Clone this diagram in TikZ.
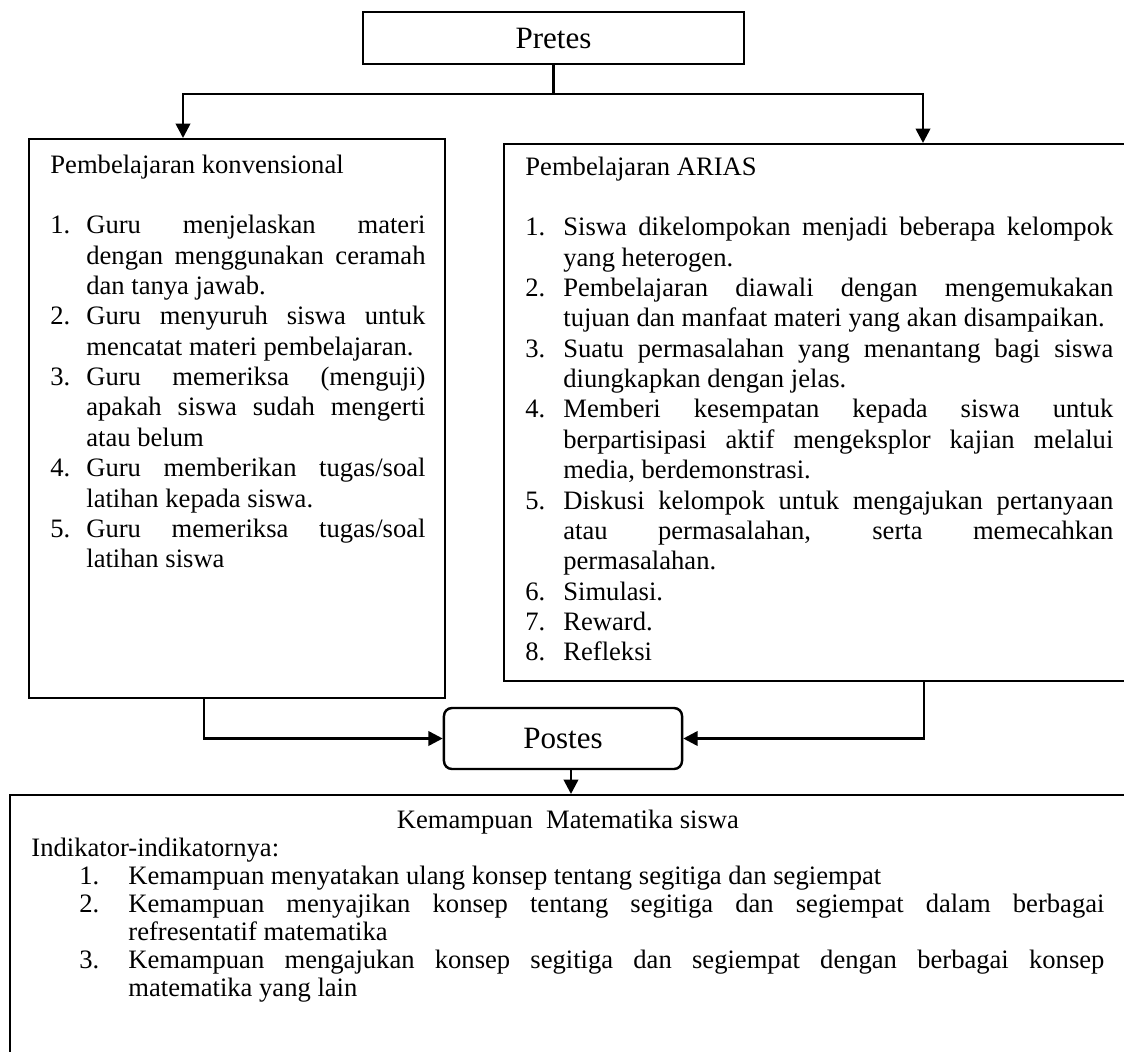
\documentclass[tikz,border=0pt]{standalone}
\usepackage{fontspec}
\setmainfont{Liberation Serif}
\usetikzlibrary{arrows.meta}

\tolerance=10000 \hbadness=10000
\hyphenpenalty=10000 \exhyphenpenalty=10000
\newlength\numw
\newcommand\numitem[2]{\par\hangindent=\numw\hangafter=1\noindent\makebox[\numw][l]{#1}#2}

\begin{document}
\begin{tikzpicture}[
    x=0.4511pt,y=-0.4511pt,
    >={Triangle[length=6.5pt,width=6.5pt]},
    box/.style={draw,line width=0.9pt,inner sep=0pt},
    link/.style={line width=1.2pt},
    txt/.style={anchor=base west,inner sep=0pt,align=justify,
      font=\fontsize{12}{13.7}\selectfont},
]
\path[use as bounding box,clip] (0,0) rectangle (1124,1052);
% boxes
\node[box,minimum width=171.9pt,minimum height=23.5pt,
  font=\fontsize{14}{16}\selectfont] (pretes) at (553.5,38) {Pretes};
\node[box,anchor=north west,minimum width=187.7pt,minimum height=252.2pt] (konv) at (28,138) {};
\node[box,anchor=north west,minimum width=282.8pt,minimum height=242.2pt] (arias) at (503,143) {};
\node[box,line width=1.1pt,rounded corners=3.6pt,minimum width=107.4pt,minimum height=27.5pt,
  font=\fontsize{14}{16}\selectfont] (postes) at (563,738.5) {Postes};
\node[box,anchor=north west,minimum width=505.7pt,minimum height=120pt] (kem) at (9,794) {};

% box texts
\node[txt,text width=169.2pt] (konvtext) at (50,173) {%
  \setlength\numw{16.2pt}%
  Pembelajaran konvensional\par\vskip\baselineskip
  \numitem{1.}{Guru menjelaskan materi\linebreak dengan menggunakan ceramah\linebreak dan tanya jawab.}
  \numitem{2.}{Guru menyuruh siswa untuk\linebreak mencatat materi pembelajaran.}
  \numitem{3.}{Guru memeriksa (menguji)\linebreak apakah siswa sudah mengerti\linebreak atau belum}
  \numitem{4.}{Guru memberikan tugas/soal\linebreak latihan kepada siswa.}
  \numitem{5.}{Guru memeriksa tugas/soal\linebreak latihan siswa}\par};
\node[txt,text width=265.2pt] (ariastext) at (525,175) {%
  \setlength\numw{17.1pt}%
  Pembelajaran ARIAS\par\vskip\baselineskip
  \numitem{1.}{Siswa dikelompokan menjadi beberapa kelompok\linebreak yang heterogen.}
  \numitem{2.}{Pembelajaran diawali dengan mengemukakan\linebreak tujuan dan manfaat materi yang akan disampaikan.}
  \numitem{3.}{Suatu permasalahan yang menantang bagi siswa\linebreak diungkapkan dengan jelas.}
  \numitem{4.}{Memberi kesempatan kepada siswa untuk\linebreak berpartisipasi aktif mengeksplor kajian melalui\linebreak media, berdemonstrasi.}
  \numitem{5.}{Diskusi kelompok untuk mengajukan pertanyaan\linebreak atau permasalahan, serta memecahkan\linebreak permasalahan.}
  \numitem{6.}{Simulasi.}
  \numitem{7.}{Reward.}
  \numitem{8.}{Refleksi}\par};
\node[txt,text width=484pt,font=\fontsize{12}{12.7}\selectfont] (kemtext) at (31,828) {%
  \setlength\numw{22.1pt}%
  {\centering Kemampuan\ \ Matematika siswa\par}
  \noindent Indikator-indikatornya:\par
  \leftskip=21.65pt
  \numitem{1.}{Kemampuan menyatakan ulang konsep tentang segitiga dan segiempat}
  \numitem{2.}{Kemampuan menyajikan konsep tentang segitiga dan segiempat dalam berbagai\linebreak refresentatif matematika}
  \numitem{3.}{Kemampuan mengajukan konsep segitiga dan segiempat dengan berbagai konsep\linebreak matematika yang lain}\par};

% connectors
\coordinate (bar) at (553.5,94);
\coordinate (konvin) at (183,138);
\coordinate (ariasin) at (923,143);
\coordinate (konvout) at (204,697);
\coordinate (ariasout) at (924,680);
\draw[link] (pretes.south) -- (bar);
\draw[link,->] (bar) -| (konvin);
\draw[link,->] (bar) -| (ariasin);
\draw[link,->] (konvout) |- (postes.west);
\draw[link,->] (ariasout) |- (postes.east);
\draw[link,->] ([xshift=3.6pt]postes.south) -- ([xshift=3.6pt]postes.south |- kem.north);
\end{tikzpicture}
\end{document}
